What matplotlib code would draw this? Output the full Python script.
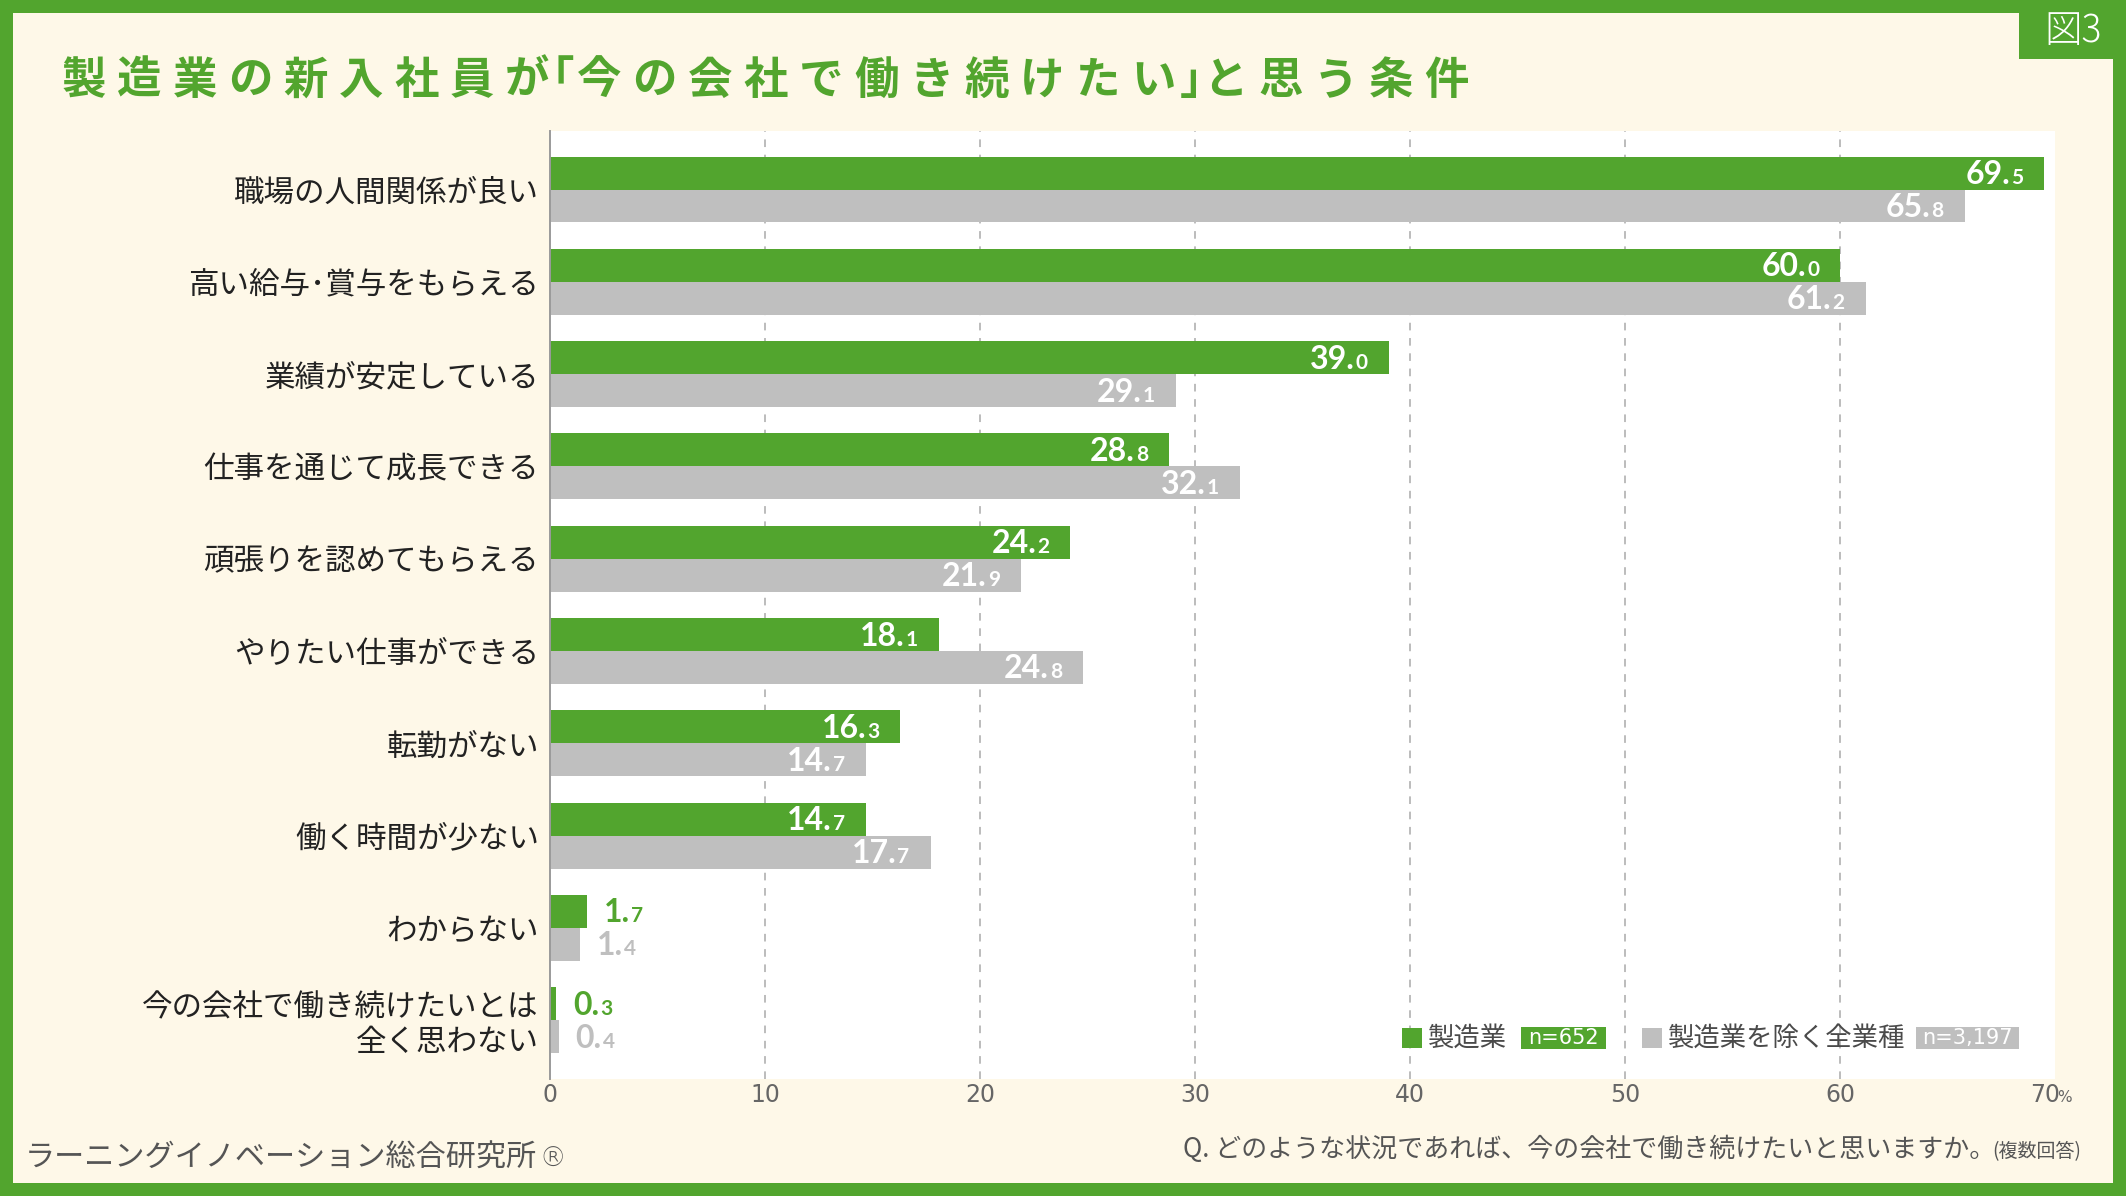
import numpy as np
import matplotlib
matplotlib.use("Agg")
import matplotlib.pyplot as plt
from matplotlib.patches import Rectangle
from matplotlib.transforms import offset_copy

plt.rcParams['font.family'] = ['Noto Sans CJK JP', 'DejaVu Sans']

# ---------------- data ----------------
categories = [
    "職場の人間関係が良い",
    "高い給与･賞与をもらえる",
    "業績が安定している",
    "仕事を通じて成長できる",
    "頑張りを認めてもらえる",
    "やりたい仕事ができる",
    "転勤がない",
    "働く時間が少ない",
    "わからない",
    "今の会社で働き続けたいとは\n全く思わない",
]
manufacturing = [69.5, 60.0, 39.0, 28.8, 24.2, 18.1, 16.3, 14.7, 1.7, 0.3]
others = [65.8, 61.2, 29.1, 32.1, 21.9, 24.8, 14.7, 17.7, 1.4, 0.4]
series_names = ["製造業", "製造業を除く全業種"]
sample_sizes = ["n=652", "n=3,197"]
xticks = [0, 10, 20, 30, 40, 50, 60, 70]

title = "製造業の新入社員が「今の会社で働き続けたい」と思う条件"
question = "Q. どのような状況であれば、今の会社で働き続けたいと思いますか。"
question_note = "(複数回答)"
source = "ラーニングイノベーション総合研究所"
badge = "図3"

# ---------------- style ----------------
GREEN = "#52A52E"
GRAY = "#BFBFBF"
CREAM = "#FEF8E8"
TEXT = "#222222"
SUB = "#555555"
NUMFONT = ['Lato', 'DejaVu Sans']
NARROW = ['Liberation Sans Narrow', 'DejaVu Sans']

W, H = 2126, 1196
fig = plt.figure(figsize=(W / 100, H / 100), dpi=100, facecolor=GREEN)


def fx(x):
    return x / W


def fy(y):
    return 1 - y / H


def prect(x0, y0, x1, y1, color, z):
    r = Rectangle((fx(x0), fy(y1)), (x1 - x0) / W, (y1 - y0) / H,
                  transform=fig.transFigure, facecolor=color,
                  edgecolor='none', zorder=z)
    fig.patches.append(r)
    return r


# frame / background
prect(13, 13, 2113, 1183, CREAM, -10)
prect(2019, 0, 2126, 59, GREEN, -5)
fig.text(fx(2073), fy(31), badge, color='white', fontsize=27, fontweight='light',
         ha='center', va='center', zorder=6)

# ---------------- axes ----------------
ax = fig.add_axes([fx(550), fy(1079), fx(2055) - fx(550), fy(131) - fy(1079)])
ax.set_facecolor('white')
y = np.arange(len(categories))
h = 0.357
ax.barh(y - h / 2, manufacturing, height=h, color=GREEN, zorder=3)
ax.barh(y + h / 2, others, height=h, color=GRAY, zorder=3)
ax.set_xlim(0, 70)
ax.set_ylim(9.637, -0.634)

for v in xticks[1:-1]:
    ax.axvline(v, color='#AAAAAA', lw=1.1, ls=(0, (5, 5)), zorder=1)

for s in ['top', 'right', 'bottom']:
    ax.spines[s].set_visible(False)
ax.spines['left'].set_color('#9A9A9A')
ax.spines['left'].set_linewidth(1.4)
ax.spines['left'].set_zorder(4)

ax.set_yticks(y)
ax.set_yticklabels(categories, fontsize=22, color=TEXT, linespacing=1.15)
ax.tick_params(axis='y', length=0, pad=8)
ax.set_xticks([])

xt = ax.get_xaxis_transform()
for v in xticks:
    dx = -10 if v == xticks[-1] else 0
    ax.annotate(str(v), xy=(v, 0), xycoords=xt, xytext=(dx, -23),
                textcoords='offset pixels', ha='center', va='baseline',
                fontsize=17, color='#666666', family=NARROW, annotation_clip=False)
ax.annotate("%", xy=(xticks[-1], 0), xycoords=xt, xytext=(2, -23),
            textcoords='offset pixels', ha='left', va='baseline',
            fontsize=11, color='#666666', family=NARROW, annotation_clip=False)

# ---------------- value labels ----------------
fig.canvas.draw()
renderer = fig.canvas.get_renderer()


def value_label(v, yc, bar_color):
    big, dec = f"{v:.1f}".split('.')
    big = big + '.'
    small = dec
    kw = dict(va='baseline', fontweight='bold', family=NUMFONT, zorder=5)
    BFS, SFS = 23, 15
    if v >= 5:
        col = 'white'
        ts = ax.text(v, yc, small, ha='right', fontsize=SFS, color=col,
                     transform=offset_copy(ax.transData, fig=fig, x=-21, y=-11, units='dots'), **kw)
        w = ts.get_window_extent(renderer).width
        ax.text(v, yc, big, ha='right', fontsize=BFS, color=col,
                transform=offset_copy(ax.transData, fig=fig, x=-21 - w - 1, y=-11, units='dots'), **kw)
    else:
        col = bar_color
        tb = ax.text(v, yc, big, ha='left', fontsize=BFS, color=col,
                     transform=offset_copy(ax.transData, fig=fig, x=17, y=-11, units='dots'), **kw)
        w = tb.get_window_extent(renderer).width
        ax.text(v, yc, small, ha='left', fontsize=SFS, color=col,
                transform=offset_copy(ax.transData, fig=fig, x=17 + w + 1, y=-11, units='dots'), **kw)


for i in range(len(categories)):
    value_label(manufacturing[i], y[i] - h / 2, GREEN)
    value_label(others[i], y[i] + h / 2, GRAY)

# ---------------- legend ----------------
LEG_Y = 1038
prect(1402, 1028, 1422, 1048, GREEN, 7)
fig.text(fx(1428), fy(LEG_Y), series_names[0], fontsize=19, color='#4A4A4A',
         ha='left', va='center', zorder=8)
prect(1521, 1027, 1606, 1049, GREEN, 7)
fig.text(fx(1563.5), fy(LEG_Y), sample_sizes[0], fontsize=15, color='white',
         ha='center', va='center', family=NARROW, zorder=8)
prect(1642, 1028, 1662, 1048, GRAY, 7)
fig.text(fx(1668), fy(LEG_Y), series_names[1], fontsize=19, color='#4A4A4A',
         ha='left', va='center', zorder=8)
prect(1916, 1027, 2019, 1049, GRAY, 7)
fig.text(fx(1967.5), fy(LEG_Y), sample_sizes[1], fontsize=15, color='white',
         ha='center', va='center', family=NARROW, zorder=8)

# ---------------- title (per character, letter-spaced) ----------------
TITLE_FS = 32
em = TITLE_FS * 100 / 72
cursor = 63.0
base_y = 77 + 0.38 * em
gw, gap = 42.0, 13.4
for ch in title:
    if ch in "「」":
        cursor += -gap + 8
        ink_c = cursor + 7.5 + (-12 if ch == "「" else 12)
        fig.text(fx(ink_c), fy(base_y), ch, fontsize=TITLE_FS, fontweight='bold',
                 color=GREEN, ha='center', va='baseline')
        cursor += 15 + 7
    else:
        fig.text(fx(cursor + gw / 2), fy(base_y), ch, fontsize=TITLE_FS, fontweight='bold',
                 color=GREEN, ha='center', va='baseline')
        cursor += gw + gap

# ---------------- footers ----------------
fs_q = 18.7
qb = 1147 + 0.38 * fs_q * 100 / 72
tn = fig.text(fx(2081), fy(qb), question_note, fontsize=13.7, color=SUB,
              ha='right', va='baseline')
wn = tn.get_window_extent(renderer).width
fig.text(fx(2081 - wn + 3), fy(qb), question, fontsize=fs_q, color=SUB,
         ha='right', va='baseline')

fs_s = 21.7
sb = 1155 + 0.38 * fs_s * 100 / 72
ts = fig.text(fx(25), fy(sb), source, fontsize=fs_s, color=SUB, ha='left', va='baseline')
ws = ts.get_window_extent(renderer).width
fig.text(fx(25 + ws + 2), fy(sb), "®", fontsize=19, color=SUB, ha='left', va='baseline',
         family=['DejaVu Sans'], fontweight='light')

fig.savefig("out.png", dpi=100, facecolor=fig.get_facecolor())
